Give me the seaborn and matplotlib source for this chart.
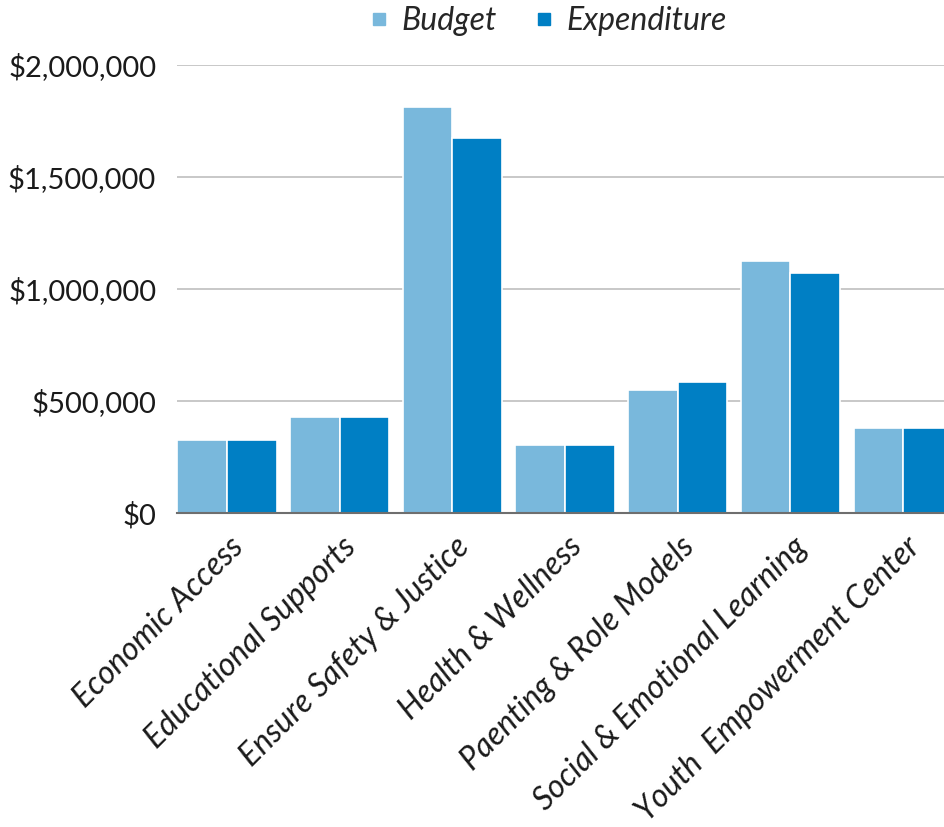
import matplotlib
matplotlib.use("Agg")
import matplotlib.pyplot as plt
import matplotlib.transforms as mtransforms
from matplotlib.lines import Line2D
import pandas as pd
import seaborn as sns

categories = [
    "Economic Access",
    "Educational Supports",
    "Ensure Safety & Justice",
    "Health & Wellness",
    "Paenting & Role Models",
    "Social & Emotional Learning",
    "Youth  Empowerment Center",
]
budget = [326000, 428000, 1814000, 304000, 549000, 1126000, 381000]
expenditure = [324000, 428000, 1675000, 304000, 585000, 1070000, 381000]
series_names = ["Budget", "Expenditure"]
series_colors = ["#79B8DC", "#007FC4"]
y_ticks = [0, 500000, 1000000, 1500000, 2000000]

df = pd.DataFrame({
    "category": categories * 2,
    "series": [series_names[0]] * len(categories) + [series_names[1]] * len(categories),
    "value": budget + expenditure,
})

sns.set_theme(style="white")
plt.rcParams["font.family"] = ["Lato", "DejaVu Sans"]

fig = plt.figure(figsize=(9.45, 8.27), dpi=100)
ax = fig.add_axes([0.1873, 0.3797, 0.828, 0.5417])

sns.barplot(
    data=df, x="category", y="value", hue="series",
    order=categories, hue_order=series_names,
    palette=series_colors, width=0.88, saturation=1,
    edgecolor="white", linewidth=1.2, ax=ax, legend=False,
)

ax.set_xlim(-0.444, 6.5)
ax.set_ylim(0, 2000000)
ax.set_yticks(y_ticks)
ax.set_yticklabels([f"${v:,.0f}" for v in y_ticks], fontsize=21, color="#1a1a1a")
ax.tick_params(axis="y", length=0, pad=15)
ax.tick_params(axis="x", length=0, pad=21)
ax.grid(axis="y", color="#BFBFBF", linewidth=1.2)
ax.grid(axis="x", visible=False)
ax.set_axisbelow(True)
ax.set_xlabel("")
ax.set_ylabel("")
for side in ["left", "right", "top"]:
    ax.spines[side].set_visible(False)
ax.spines["bottom"].set_color("#6E6E6E")
ax.spines["bottom"].set_linewidth(1.5)

offset = mtransforms.ScaledTranslation(12 / 100, 0, fig.dpi_scale_trans)
for lbl in ax.get_xticklabels():
    lbl.set_rotation(45)
    lbl.set_ha("right")
    lbl.set_va("center")
    lbl.set_rotation_mode("anchor")
    lbl.set_fontsize(23)
    lbl.set_fontstyle("italic")
    lbl.set_color("#1a1a1a")
    lbl.set_transform(lbl.get_transform() + offset)

handles = [
    Line2D([], [], marker="s", linestyle="none", markersize=8,
           markerfacecolor=c, markeredgecolor=c)
    for c in series_colors
]
fig.legend(
    handles, series_names, loc="center", bbox_to_anchor=(545 / 945, 1 - 21 / 827),
    ncol=2, frameon=False, handletextpad=0.2, columnspacing=1.0,
    handlelength=1.0, prop={"size": 23, "style": "italic"},
)

fig.savefig("out.png", dpi=100)
